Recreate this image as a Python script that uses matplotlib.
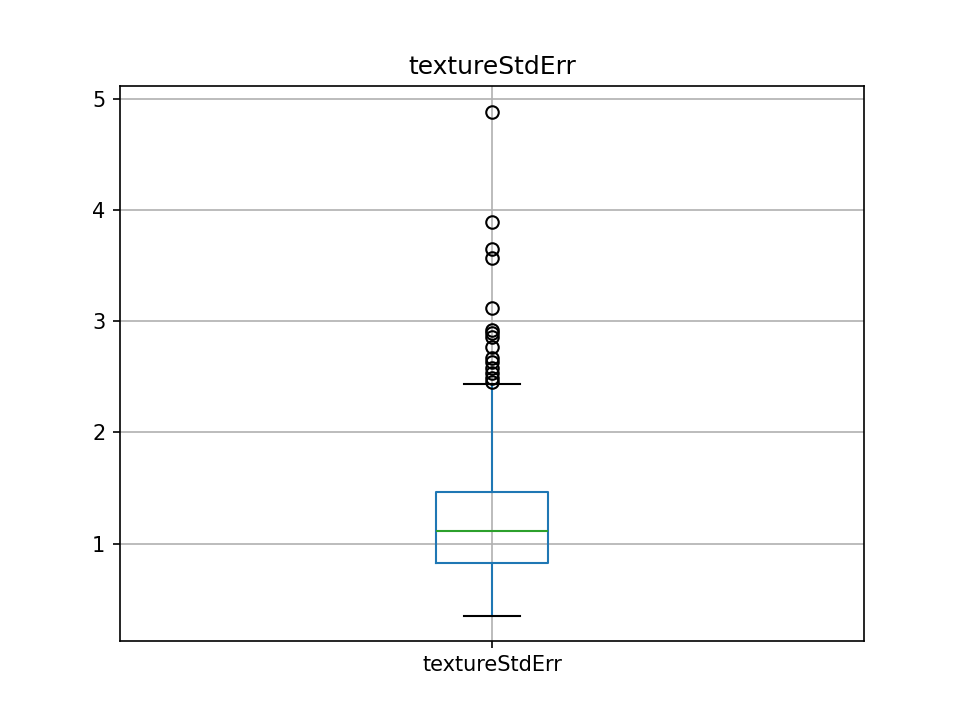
import matplotlib
matplotlib.use('Agg')
import matplotlib.pyplot as plt

# 箱线图统计量
label = 'textureStdErr'
q1, med, q3 = 0.829, 1.117, 1.467
whislo, whishi = 0.353, 2.438
fliers = [4.883, 3.894, 3.652, 3.571, 3.121, 2.924, 2.897, 2.861, 2.771,
          2.672, 2.636, 2.582, 2.537, 2.492, 2.456]

stats = [dict(label=label, q1=q1, med=med, q3=q3,
              whislo=whislo, whishi=whishi, fliers=fliers)]

fig, ax = plt.subplots(figsize=(6.4, 4.8), dpi=150)
ax.bxp(stats, widths=0.15,
       boxprops=dict(color='C0'), whiskerprops=dict(color='C0'),
       medianprops=dict(color='C2'), capprops=dict(color='black'),
       flierprops=dict(marker='o', markerfacecolor='none',
                       markeredgecolor='black'))
ax.set_title(label)
ax.grid(True)
plt.savefig('out.png', dpi=150)
